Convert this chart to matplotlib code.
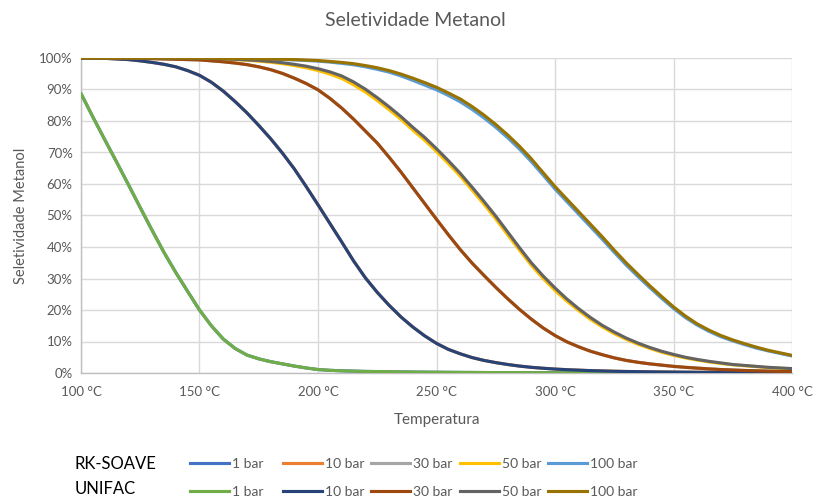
import matplotlib
matplotlib.use("Agg")
import matplotlib.pyplot as plt
from matplotlib.lines import Line2D

plt.rcParams['font.family'] = ['Lato', 'DejaVu Sans']

temps = list(range(100, 401, 5))

unifac_1 = [88.7, 81.3, 74.1, 67.0, 59.8, 52.5, 45.3, 38.3, 31.9, 25.9,
            20.0, 15.0, 10.8, 7.8, 5.7, 4.5, 3.6, 2.9, 2.2, 1.6,
            1.1, 0.85, 0.7, 0.6, 0.5, 0.45, 0.4, 0.35, 0.3, 0.27,
            0.24, 0.21, 0.19, 0.17, 0.15, 0.13, 0.12, 0.11, 0.1, 0.09,
            0.08, 0.07, 0.07, 0.06, 0.06, 0.05, 0.05, 0.04, 0.04, 0.04,
            0.03, 0.03, 0.03, 0.03, 0.02, 0.02, 0.02, 0.02, 0.02, 0.02, 0.01]

unifac_10 = [100.0, 99.95, 99.9, 99.7, 99.5, 99.1, 98.6, 98.0, 97.2, 96.0,
             94.5, 92.3, 89.5, 86.2, 82.6, 78.6, 74.4, 69.8, 64.8, 59.2,
             53.4, 47.5, 41.6, 35.6, 30.2, 25.6, 21.5, 17.8, 14.6, 11.8,
             9.4, 7.5, 6.1, 4.9, 4.0, 3.3, 2.7, 2.2, 1.8, 1.5,
             1.25, 1.05, 0.9, 0.75, 0.65, 0.55, 0.48, 0.42, 0.37, 0.33,
             0.29, 0.26, 0.23, 0.21, 0.19, 0.17, 0.15, 0.14, 0.13, 0.12, 0.11]

unifac_30 = [100.0, 100.0, 99.98, 99.95, 99.9, 99.85, 99.8, 99.7, 99.6, 99.5,
             99.4, 99.1, 98.8, 98.4, 97.9, 97.2, 96.3, 95.1, 93.6, 91.9,
             89.9, 87.2, 84.1, 80.6, 76.8, 73.0, 68.5, 63.8, 58.8, 53.8,
             48.8, 43.9, 39.2, 34.9, 31.0, 27.2, 23.6, 20.2, 17.1, 14.3,
             11.9, 9.9, 8.3, 6.9, 5.8, 4.8, 4.0, 3.4, 2.9, 2.5,
             2.1, 1.8, 1.55, 1.3, 1.1, 0.95, 0.8, 0.7, 0.6, 0.5, 0.45]

unifac_50 = [100.0, 100.0, 100.0, 99.99, 99.98, 99.97, 99.96, 99.95, 99.93, 99.92,
             99.9, 99.85, 99.75, 99.6, 99.4, 99.2, 98.9, 98.5, 98.0, 97.4,
             96.6, 95.6, 94.3, 92.4, 90.1, 87.4, 84.5, 81.4, 78.0, 74.8,
             71.2, 67.4, 63.4, 59.0, 54.5, 49.8, 44.8, 39.8, 35.0, 30.8,
             27.0, 23.5, 20.4, 17.6, 15.1, 13.0, 11.1, 9.5, 8.1, 6.9,
             5.9, 5.0, 4.3, 3.7, 3.2, 2.7, 2.4, 2.1, 1.8, 1.6, 1.4]

unifac_100 = [100.0, 100.0, 100.0, 100.0, 100.0, 99.99, 99.99, 99.98, 99.97, 99.96,
              99.95, 99.93, 99.9, 99.85, 99.8, 99.75, 99.7, 99.6, 99.5, 99.35,
              99.2, 98.9, 98.6, 98.2, 97.6, 96.9, 96.0, 94.9, 93.6, 92.2,
              90.7, 88.9, 87.0, 84.6, 81.9, 78.9, 75.6, 72.0, 68.0, 63.6,
              59.2, 55.2, 51.2, 47.2, 43.2, 39.0, 35.0, 31.3, 27.7, 24.3,
              21.0, 18.1, 15.6, 13.6, 11.9, 10.5, 9.3, 8.2, 7.2, 6.4, 5.6]

rk_1 = list(unifac_1)
rk_10 = list(unifac_10)
rk_30 = list(unifac_30)

rk_50 = [100.0, 100.0, 100.0, 99.99, 99.98, 99.97, 99.95, 99.94, 99.92, 99.9,
         99.87, 99.8, 99.68, 99.5, 99.27, 99.0, 98.65, 98.2, 97.6, 96.9,
         96.0, 94.9, 93.5, 91.5, 89.2, 86.5, 83.6, 80.5, 77.1, 73.9,
         70.3, 66.5, 62.5, 58.1, 53.6, 48.9, 43.9, 39.0, 34.2, 30.0,
         26.2, 22.8, 19.8, 17.0, 14.6, 12.5, 10.7, 9.1, 7.8, 6.6,
         5.6, 4.8, 4.1, 3.5, 3.0, 2.6, 2.3, 2.0, 1.7, 1.5, 1.3]

rk_100 = [100.0, 100.0, 100.0, 100.0, 99.99, 99.98, 99.98, 99.97, 99.96, 99.95,
          99.93, 99.9, 99.87, 99.82, 99.76, 99.7, 99.63, 99.52, 99.4, 99.22,
          99.0, 98.7, 98.3, 97.85, 97.2, 96.4, 95.5, 94.3, 92.9, 91.4,
          89.9, 88.1, 86.1, 83.7, 81.0, 78.0, 74.7, 71.1, 67.1, 62.8,
          58.4, 54.4, 50.4, 46.4, 42.4, 38.3, 34.3, 30.6, 27.1, 23.7,
          20.5, 17.6, 15.2, 13.2, 11.5, 10.2, 9.0, 7.9, 7.0, 6.2, 5.4]

pressure_labels = ["1 bar", "10 bar", "30 bar", "50 bar", "100 bar"]
rk_series = [rk_1, rk_10, rk_30, rk_50, rk_100]
unifac_series = [unifac_1, unifac_10, unifac_30, unifac_50, unifac_100]
rk_colors = ["#4472C4", "#ED7D31", "#A5A5A5", "#FFC000", "#5B9BD5"]
unifac_colors = ["#70AD47", "#264478", "#9E480E", "#636363", "#997300"]

x_ticks = [100, 150, 200, 250, 300, 350, 400]
y_ticks = list(range(0, 101, 10))

W, H = 814, 498
fig = plt.figure(figsize=(W / 100, H / 100), dpi=100)
ax = fig.add_axes([81 / W, 1 - 373 / H, (792 - 81) / W, (373 - 58) / H])

txt = "#595959"
lw = 2.25
rk_lines = []
for vals, c in zip(rk_series, rk_colors):
    ln, = ax.plot(temps, vals, color=c, lw=lw, solid_capstyle='round',
                  solid_joinstyle='round', zorder=3)
    rk_lines.append(ln)
un_lines = []
for vals, c in zip(unifac_series, unifac_colors):
    ln, = ax.plot(temps, vals, color=c, lw=lw, solid_capstyle='round',
                  solid_joinstyle='round', zorder=4)
    un_lines.append(ln)

ax.set_xlim(100, 400)
ax.set_ylim(0, 100)
ax.set_xticks(x_ticks)
ax.set_xticklabels([f"{t} °C" for t in x_ticks])
ax.set_yticks(y_ticks)
ax.set_yticklabels([f"{v}%" for v in y_ticks])
ax.grid(True, color="#D9D9D9", lw=1.0, zorder=0)
ax.set_axisbelow(True)
for s in ["top", "right"]:
    ax.spines[s].set_visible(False)
for s in ["left", "bottom"]:
    ax.spines[s].set_color("#BFBFBF")
    ax.spines[s].set_linewidth(1.0)
ax.tick_params(axis='x', length=0, labelsize=9.5, colors=txt, pad=9)
ax.tick_params(axis='y', length=0, labelsize=9.5, colors=txt, pad=6)

ax.set_xlabel("Temperatura", fontsize=11, color=txt, labelpad=11)
ax.set_ylabel("Seletividade Metanol", fontsize=10.5, color=txt, labelpad=8)
fig.text(415 / W, 1 - 20 / H, "Seletividade Metanol", ha="center", va="center",
         fontsize=14, color=txt)

# legend block
fig.text(75 / W, 1 - 464 / H, "RK-SOAVE", ha="left", va="center", fontsize=12, color="#000000")
fig.text(75 / W, 1 - 489 / H, "UNIFAC", ha="left", va="center", fontsize=12, color="#000000")
col_x = [190, 283, 371, 460, 548]
for row_y, lines in ((464, rk_lines), (492, un_lines)):
    for xpos, ln, lab in zip(col_x, lines, pressure_labels):
        h = Line2D([], [], color=ln.get_color(), lw=lw)
        fig.legend([h], [lab], loc="center left",
                   bbox_to_anchor=(xpos / W, 1 - row_y / H),
                   frameon=False, fontsize=10, labelcolor=txt,
                   handlelength=2.8, handletextpad=0.25,
                   borderpad=0, borderaxespad=0)

fig.savefig("out.png", dpi=100)
